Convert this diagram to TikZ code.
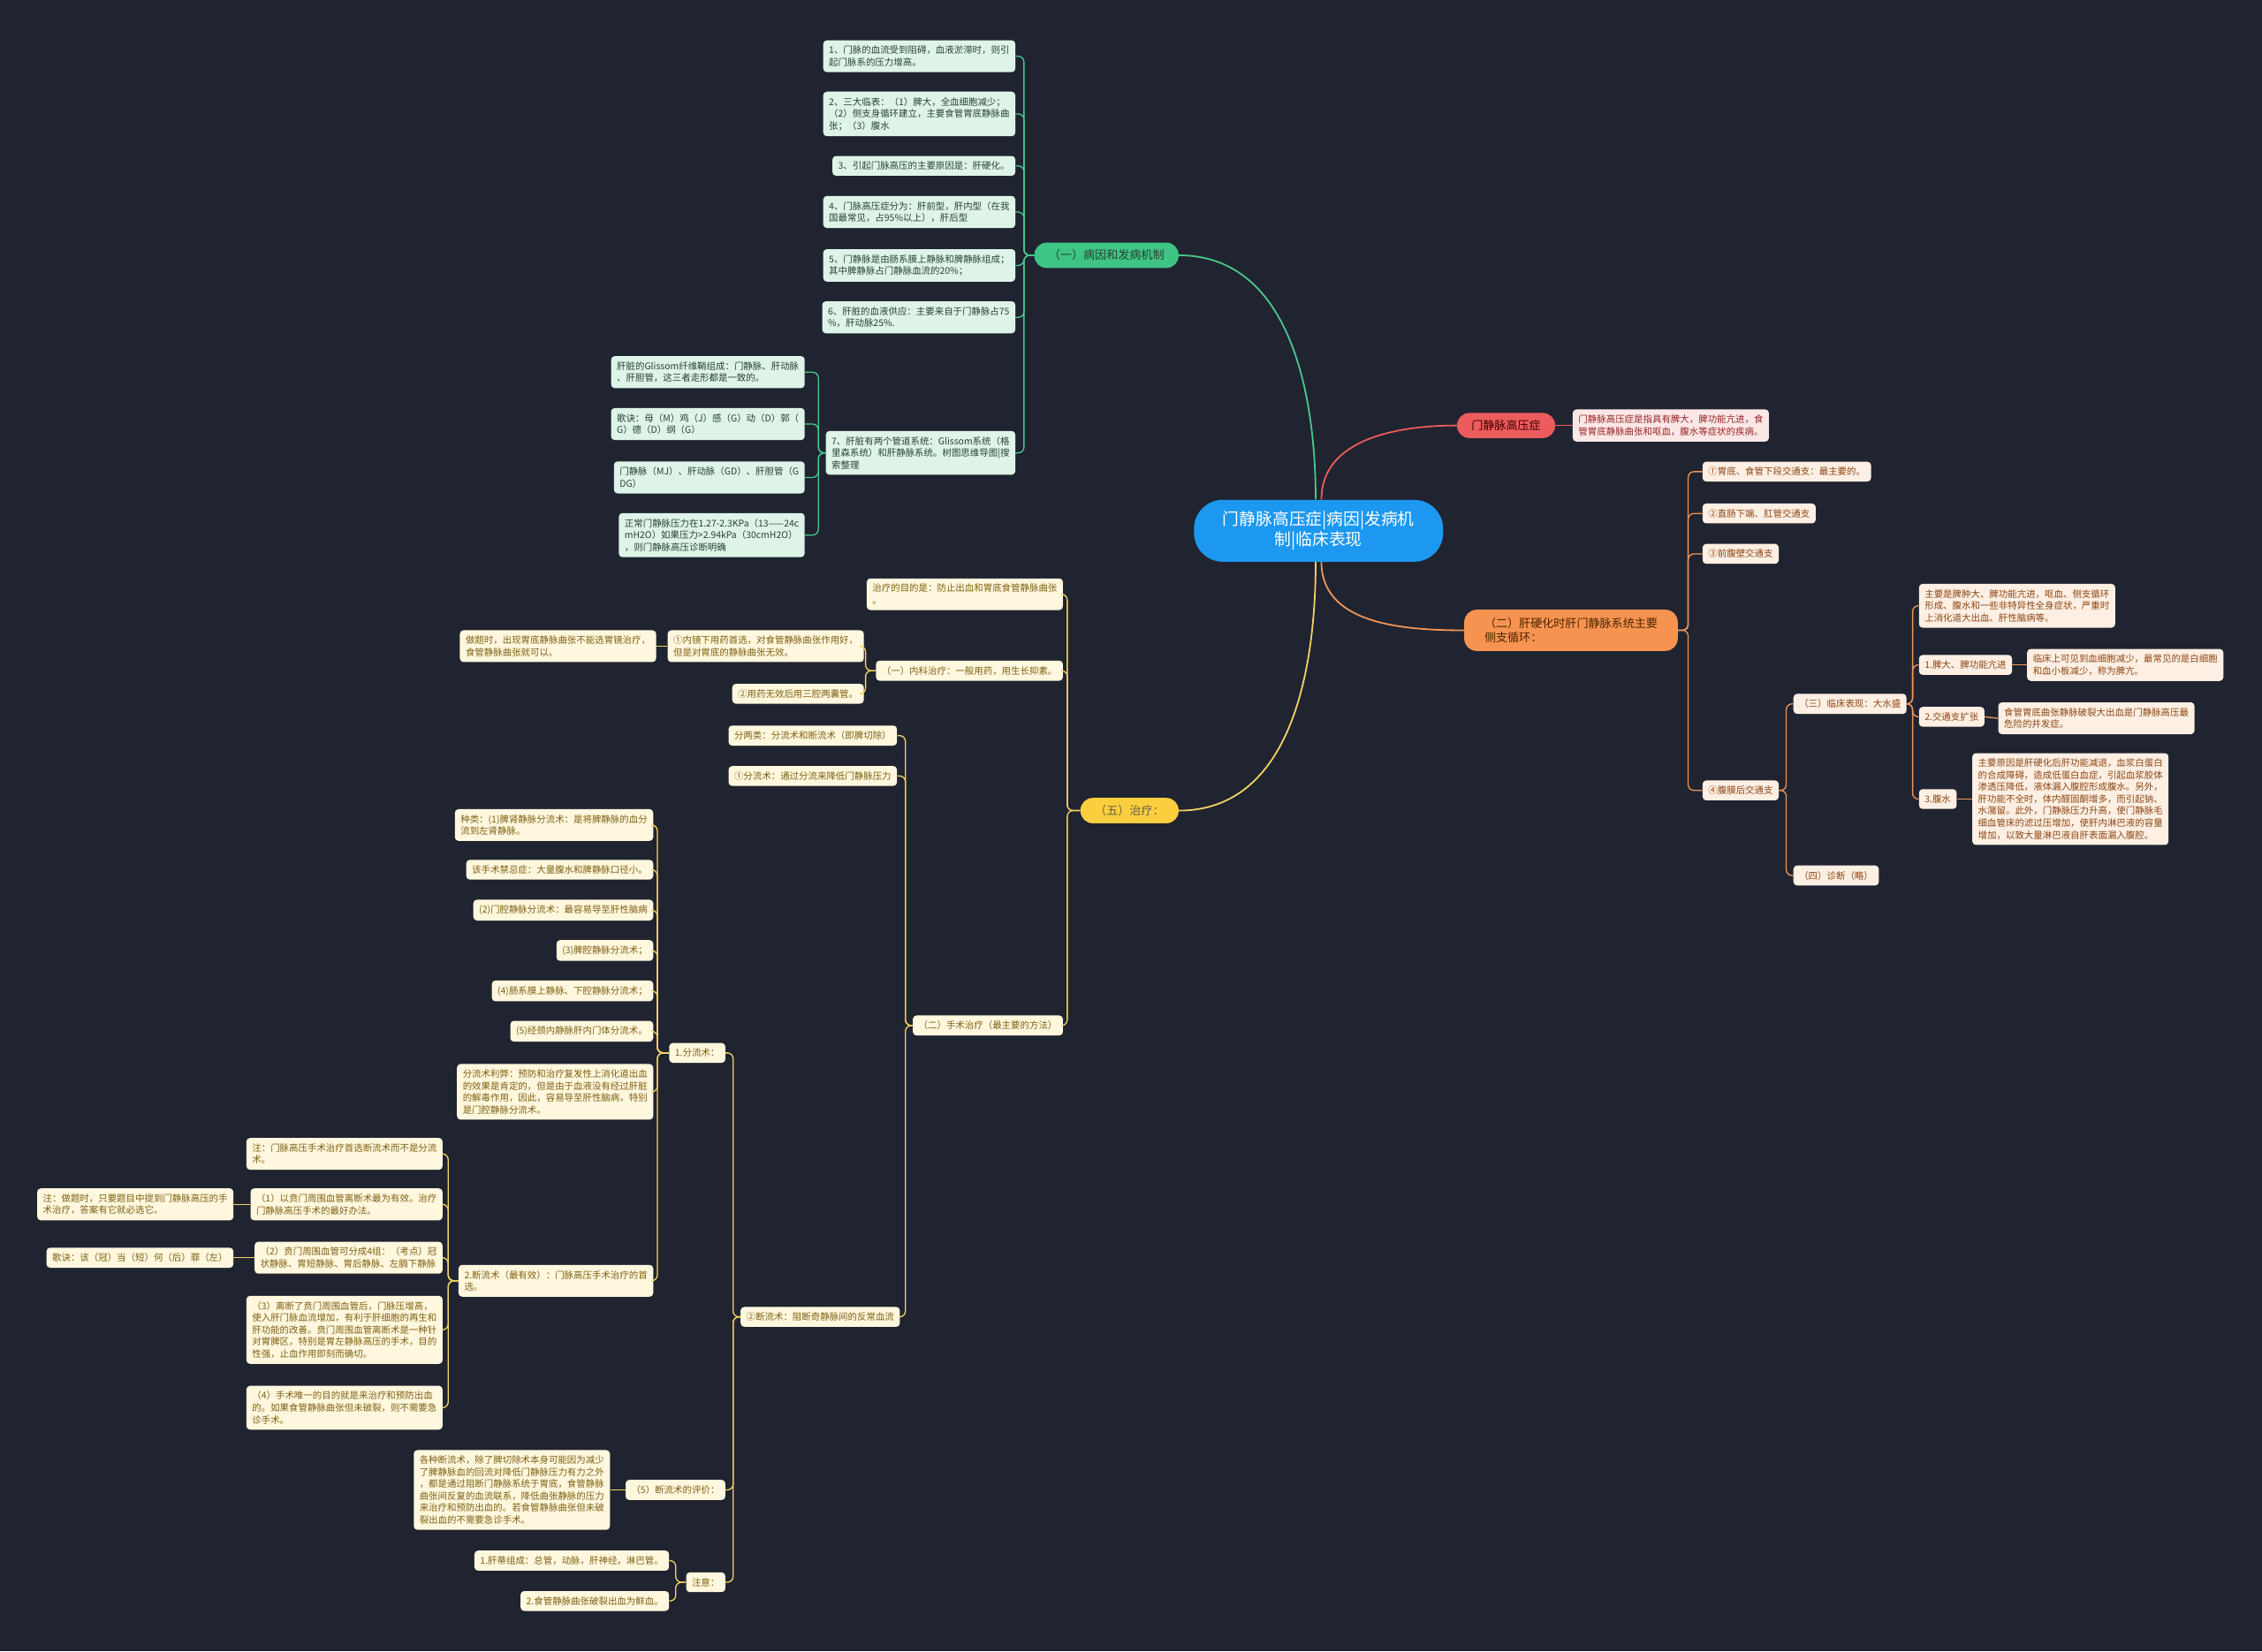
\documentclass[tikz,border=0pt]{standalone}
\usepackage{fontspec}
\setmainfont{Noto Sans CJK SC}
\definecolor{bg}{RGB}{32,36,48}
\definecolor{blueroot}{RGB}{28,152,240}
\definecolor{gmain}{RGB}{62,196,132}
\definecolor{gleaf}{RGB}{222,244,232}
\definecolor{gtext}{RGB}{40,66,52}
\definecolor{gline}{RGB}{72,200,142}
\definecolor{rmain}{RGB}{237,92,92}
\definecolor{rleaf}{RGB}{252,231,231}
\definecolor{rtext}{RGB}{150,36,36}
\definecolor{omain}{RGB}{246,147,80}
\definecolor{oleaf}{RGB}{253,239,227}
\definecolor{otext}{RGB}{140,70,20}
\definecolor{oline}{RGB}{239,150,90}
\definecolor{ymain}{RGB}{250,206,62}
\definecolor{yleaf}{RGB}{255,247,222}
\definecolor{ytext}{RGB}{125,96,18}
\definecolor{yline}{RGB}{242,210,100}
\tikzset{
  leaf/.style={rounded corners=2.5pt, inner xsep=4pt, inner ysep=3.9pt, align=left,
    font=\fontsize{6.4}{8.3}\selectfont},
  gbox/.style={leaf, fill=gleaf, text=gtext},
  rbox/.style={leaf, fill=rleaf, text=rtext},
  obox/.style={leaf, fill=oleaf, text=otext},
  ybox/.style={leaf, fill=yleaf, text=ytext},
  branch/.style={rounded corners=8.5pt, inner xsep=10pt, inner ysep=5pt, align=left,
    font=\fontsize{8}{10}\selectfont},
  glink/.style={draw=gline, line width=0.8pt, rounded corners=4pt},
  olink/.style={draw=oline, line width=0.8pt, rounded corners=4pt},
  ylink/.style={draw=yline, line width=0.8pt, rounded corners=4pt},
}
\begin{document}
\begin{tikzpicture}[x=1pt,y=-1pt]
	\fill[bg] (0,0) rectangle (1568,1145);
	% Mitte
	\node[fill=blueroot, text=white, rounded corners=20pt, inner xsep=20pt, inner ysep=8pt, align=center,
		font=\fontsize{11.5}{14}\selectfont] (c) at (914,368) {门静脉高压症|病因|发病机\\制|临床表现};

	% Hauptaeste
	\node[branch, fill=gmain, text=gtext] (g) at (767,177) {（一）病因和发病机制};
	\node[branch, fill=rmain, text=black!75!red] (r) at (1044,295) {门静脉高压症};
	\node[branch, fill=omain, text=black!70!orange, inner xsep=14pt, inner ysep=5.5pt] (o) at (1089,437) {（二）肝硬化时肝门静脉系统主要\\侧支循环：};
	\node[branch, fill=ymain, text=black!70!yellow] (y) at (783,562) {（五）治疗：};
	\draw[gline, line width=1.1pt] ([xshift=-2pt]c.north) to[out=90, in=0] (g.east);
	\draw[rmain, line width=1.1pt] ([xshift=2pt]c.north) to[out=90, in=180] (r.west);
	\draw[oline, line width=1.1pt] ([xshift=2pt]c.south) to[out=-90, in=180] (o.west);
	\draw[yline, line width=1.1pt] ([xshift=-2pt]c.south) to[out=-90, in=0] (y.east);

	% (一) Ursachen
	\node[gbox, anchor=east] (g1) at (704,39) {1、门脉的血流受到阻碍，血液淤滞时，则引\\起门脉系的压力增高。};
	\node[gbox, anchor=east] (g2) at (704,79) {2、三大临表：（1）脾大，全血细胞减少；\\（2）侧支身循环建立，主要食管胃底静脉曲\\张；（3）腹水};
	\node[gbox, anchor=east] (g3) at (704,115) {3、引起门脉高压的主要原因是：肝硬化。};
	\node[gbox, anchor=east] (g4) at (704,147) {4、门脉高压症分为：肝前型，肝内型（在我\\国最常见，占95\%以上），肝后型};
	\node[gbox, anchor=east] (g5) at (704,184) {5、门静脉是由肠系膜上静脉和脾静脉组成；\\其中脾静脉占门静脉血流的20\%；};
	\node[gbox, anchor=east] (g6) at (704,220) {6、肝脏的血液供应：主要来自于门静脉占75\\\%，肝动脉25\%.};
	\node[gbox, anchor=east] (g7) at (704,314) {7、肝脏有两个管道系统：Glissom系统（格\\里森系统）和肝静脉系统。树图思维导图|搜\\索整理};
	\node[gbox, anchor=east] (g7a) at (558,258) {肝脏的Glissom纤维鞘组成：门静脉、肝动脉\\、肝胆管，这三者走形都是一致的。};
	\node[gbox, anchor=east] (g7b) at (558,294) {歌诀：母（M）鸡（J）感（G）动（D）郭（\\G）德（D）纲（G）};
	\node[gbox, anchor=east] (g7c) at (558,331) {门静脉（MJ）、肝动脉（GD）、肝胆管（G\\DG）};
	\node[gbox, anchor=east] (g7d) at (558,371) {正常门静脉压力在1.27-2.3KPa（13——24c\\mH2O）如果压力>2.94kPa（30cmH2O）\\，则门静脉高压诊断明确};
	\foreach \k in {g1,g2,g3,g4,g5,g6,g7}
		\draw[glink] (g.west) -- ++(-7,0) |- (\k.east);
	\foreach \k in {g7a,g7b,g7c,g7d}
		\draw[glink] (g7.west) -- ++(-5,0) |- (\k.east);

	% Definition
	\node[rbox, anchor=west] (r1) at (1090,295) {门静脉高压症是指具有脾大，脾功能亢进，食\\管胃底静脉曲张和呕血，腹水等症状的疾病。};
	\draw[rmain, line width=0.8pt] (r.east) -- (r1.west);

	% (二) Kollateralen
	\node[obox, anchor=west] (o1) at (1180,327) {①胃底、食管下段交通支：最主要的。};
	\node[obox, anchor=west] (o2) at (1180,356) {②直肠下端、肛管交通支};
	\node[obox, anchor=west] (o3) at (1180,384) {③前腹壁交通支};
	\node[obox, anchor=west] (o4) at (1180,548) {④腹膜后交通支};
	\node[obox, anchor=west] (o41) at (1243,488) {（三）临床表现：大水盛};
	\node[obox, anchor=west] (o42) at (1243,607) {（四）诊断（略）};
	\node[obox, anchor=west] (k0) at (1330,420) {主要是脾肿大、脾功能亢进，呕血、侧支循环\\形成、腹水和一些非特异性全身症状，严重时\\上消化道大出血、肝性脑病等。};
	\node[obox, anchor=west] (k1) at (1330,461) {1.脾大、脾功能亢进};
	\node[obox, anchor=west] (k2) at (1330,497) {2.交通支扩张};
	\node[obox, anchor=west] (k3) at (1330,554) {3.腹水};
	\node[obox, anchor=west] (k1a) at (1405,461) {临床上可见到血细胞减少，最常见的是白细胞\\和血小板减少，称为脾亢。};
	\node[obox, anchor=west] (k2a) at (1385,498) {食管胃底曲张静脉破裂大出血是门静脉高压最\\危险的并发症。};
	\node[obox, anchor=west] (k3a) at (1367,554) {主要原因是肝硬化后肝功能减退，血浆白蛋白\\的合成障碍，造成低蛋白血症，引起血浆胶体\\渗透压降低，液体漏入腹腔形成腹水。另外，\\肝功能不全时，体内醛固酮增多，而引起钠、\\水潴留。此外，门静脉压力升高，使门静脉毛\\细血管床的滤过压增加，使肝内淋巴液的容量\\增加，以致大量淋巴液自肝表面漏入腹腔。};
	\foreach \k in {o1,o2,o3,o4}
		\draw[olink] (o.east) -- ++(7,0) |- (\k.west);
	\foreach \k in {o41,o42}
		\draw[olink] (o4.east) -- ++(5,0) |- (\k.west);
	\foreach \k in {k0,k1,k2,k3}
		\draw[olink] (o41.east) -- ++(4,0) |- (\k.west);
	\draw[olink] (k1.east) -- (k1a.west);
	\draw[olink] (k2.east) -- (k2a.west);
	\draw[olink] (k3.east) -- (k3a.west);

	% (五) Therapie
	\node[ybox, anchor=east] (t1) at (737,412) {治疗的目的是：防止出血和胃底食管静脉曲张\\。};
	\node[ybox, anchor=east] (t2) at (737,465) {（一）内科治疗：一般用药，用生长抑素。};
	\node[ybox, anchor=east] (t3) at (737,711) {（二）手术治疗（最主要的方法）};
	\node[ybox, anchor=east] (t21) at (599,448) {①内镜下用药首选，对食管静脉曲张作用好，\\但是对胃底的静脉曲张无效。};
	\node[ybox, anchor=east] (t22) at (599,481) {②用药无效后用三腔两囊管。};
	\node[ybox, anchor=east] (t21a) at (455,448) {做题时，出现胃底静脉曲张不能选胃镜治疗，\\食管静脉曲张就可以。};
	\node[ybox, anchor=east] (t31) at (622,510) {分两类：分流术和断流术（即脾切除）};
	\node[ybox, anchor=east] (t32) at (622,538) {①分流术：通过分流来降低门静脉压力};
	\node[ybox, anchor=east] (t33) at (624,913) {②断流术：阻断奇静脉间的反常血流};
	\foreach \k in {t1,t2,t3}
		\draw[ylink] (y.west) -- ++(-9,0) |- (\k.east);
	\foreach \k in {t21,t22}
		\draw[ylink] (t2.west) -- ++(-7,0) |- (\k.east);
	\draw[ylink] (t21.west) -- (t21a.east);
	\foreach \k in {t31,t32,t33}
		\draw[ylink] (t3.west) -- ++(-5,0) |- (\k.east);

	% Shunt und Dissektion
	\node[ybox, anchor=east] (s1) at (503,730) {1.分流术：};
	\node[ybox, anchor=east] (s2) at (503,1033) {（5）断流术的评价：};
	\node[ybox, anchor=east] (s3) at (503,1097) {注意：};
	\foreach \k in {s1,s2,s3}
		\draw[ylink] (t33.west) -- ++(-5,0) |- (\k.east);
	\node[ybox, anchor=east] (f1) at (453,572) {种类：(1)脾肾静脉分流术：是将脾静脉的血分\\流到左肾静脉。};
	\node[ybox, anchor=east] (f2) at (453,603) {该手术禁忌症：大量腹水和脾静脉口径小。};
	\node[ybox, anchor=east] (f3) at (453,631) {(2)门腔静脉分流术：最容易导至肝性脑病};
	\node[ybox, anchor=east] (f4) at (453,659) {(3)脾腔静脉分流术；};
	\node[ybox, anchor=east] (f5) at (453,687) {(4)肠系膜上静脉、下腔静脉分流术；};
	\node[ybox, anchor=east] (f6) at (453,715) {(5)经颈内静脉肝内门体分流术。};
	\node[ybox, anchor=east] (f7) at (453,757) {分流术利弊：预防和治疗复发性上消化道出血\\的效果是肯定的，但是由于血液没有经过肝脏\\的解毒作用，因此，容易导至肝性脑病，特别\\是门腔静脉分流术。};
	\node[ybox, anchor=east] (d) at (453,888) {2.断流术（最有效）：门脉高压手术治疗的首\\选。};
	\foreach \k in {f1,f2,f3,f4,f5,f6,f7,d}
		\draw[ylink] (s1.west) -- ++(-8,0) |- (\k.east);
	\node[ybox, anchor=east] (d0) at (307,800) {注：门脉高压手术治疗首选断流术而不是分流\\术。};
	\node[ybox, anchor=east] (d1) at (307,835) {（1）以贲门周围血管离断术最为有效。治疗\\门静脉高压手术的最好办法。};
	\node[ybox, anchor=east] (d2) at (307,872) {（2）贲门周围血管可分成4组：（考点）冠\\状静脉、胃短静脉、胃后静脉、左膈下静脉};
	\node[ybox, anchor=east] (d3) at (307,922) {（3）离断了贲门周围血管后，门脉压增高，\\使入肝门脉血流增加，有利于肝细胞的再生和\\肝功能的改善。贲门周围血管离断术是一种针\\对胃脾区，特别是胃左静脉高压的手术，目的\\性强，止血作用即刻而确切。};
	\node[ybox, anchor=east] (d4) at (307,976) {（4）手术唯一的目的就是来治疗和预防出血\\的。如果食管静脉曲张但未破裂，则不需要急\\诊手术。};
	\node[ybox, anchor=east] (d1a) at (162,835) {注：做题时，只要题目中提到门静脉高压的手\\术治疗，答案有它就必选它。};
	\node[ybox, anchor=east] (d2a) at (162,872) {歌诀：该（冠）当（短）何（后）罪（左）};
	\foreach \k in {d0,d1,d2,d3,d4}
		\draw[ylink] (d.west) -- ++(-7,0) |- (\k.east);
	\draw[ylink] (d1.west) -- (d1a.east);
	\draw[ylink] (d2.west) -- (d2a.east);

	\node[ybox, anchor=east] (s2a) at (423,1033) {各种断流术，除了脾切除术本身可能因为减少\\了脾静脉血的回流对降低门静脉压力有力之外\\，都是通过阻断门静脉系统于胃底，食管静脉\\曲张间反复的血流联系，降低曲张静脉的压力\\来治疗和预防出血的。若食管静脉曲张但未破\\裂出血的不需要急诊手术。};
	\draw[ylink] (s2.west) -- (s2a.east);
	\node[ybox, anchor=east] (s3a) at (464,1082) {1.肝蒂组成：总管，动脉，肝神经，淋巴管。};
	\node[ybox, anchor=east] (s3b) at (464,1110) {2.食管静脉曲张破裂出血为鲜血。};
	\foreach \k in {s3a,s3b}
		\draw[ylink] (s3.west) -- ++(-7,0) |- (\k.east);
\end{tikzpicture}
\end{document}
